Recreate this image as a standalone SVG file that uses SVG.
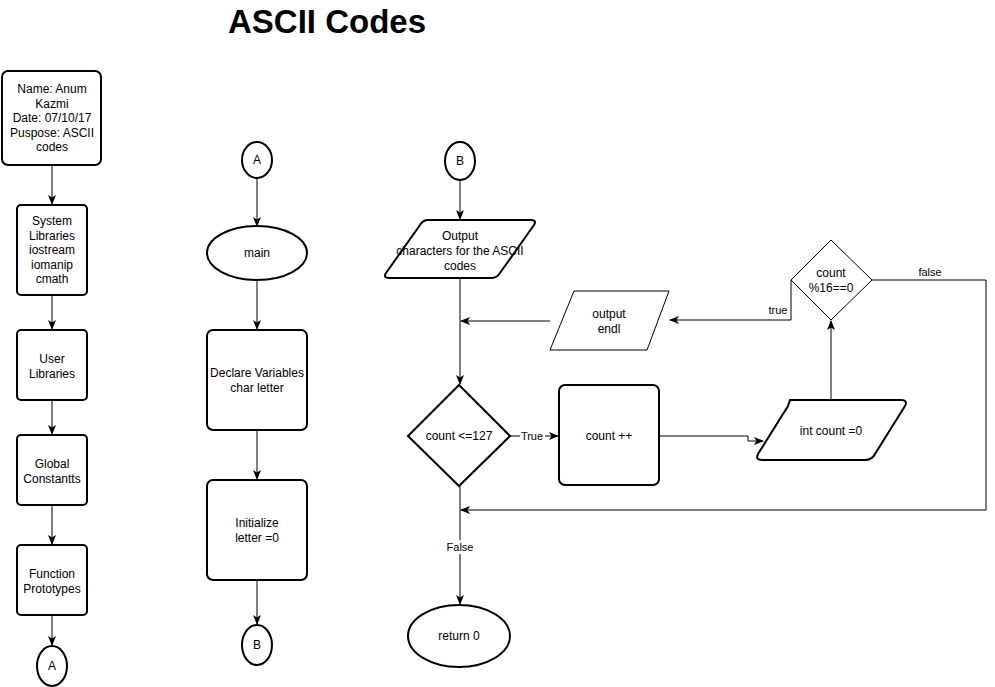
<svg xmlns="http://www.w3.org/2000/svg" width="995" height="687" viewBox="0 0 995 687">
  <defs>
    <style>
      .node { fill: #ffffff; stroke: #000000; stroke-width: 2; }
      .thin { fill: #ffffff; stroke: #000000; stroke-width: 1; }
      .edge { fill: none; stroke: #000000; stroke-width: 1; }
      text { font-family: "Liberation Sans", Arial, Helvetica, sans-serif; font-size: 12px; fill: #000000; text-anchor: middle; }
      .title { font-size: 33px; font-weight: bold; }
      .lbl { font-size: 11px; }
    </style>
    <marker id="arrow" viewBox="0 0 10 8" refX="9" refY="4" markerWidth="10" markerHeight="8" markerUnits="userSpaceOnUse" orient="auto">
      <path d="M0,0 L10,4 L0,8 L2.5,4 Z" fill="#000000"/>
    </marker>
  </defs>
  <rect width="995" height="687" fill="#ffffff"/>

  <text class="title" x="327" y="33">ASCII Codes</text>

  <!-- connectors -->
  <g id="connectors">
    <path class="edge" d="M52,165 V204" marker-end="url(#arrow)"/>
    <path class="edge" d="M52,295 V329" marker-end="url(#arrow)"/>
    <path class="edge" d="M52,400 V434" marker-end="url(#arrow)"/>
    <path class="edge" d="M52,505 V544" marker-end="url(#arrow)"/>
    <path class="edge" d="M52,615 V645" marker-end="url(#arrow)"/>

    <path class="edge" d="M257,179 V226" marker-end="url(#arrow)"/>
    <path class="edge" d="M257,280 V329" marker-end="url(#arrow)"/>
    <path class="edge" d="M257,430 V479" marker-end="url(#arrow)"/>
    <path class="edge" d="M257,580 V624" marker-end="url(#arrow)"/>

    <path class="edge" d="M460,180 V219" marker-end="url(#arrow)"/>
    <path class="edge" d="M460,278 V384" marker-end="url(#arrow)"/>
    <path class="edge" d="M550,321 H461" marker-end="url(#arrow)"/>
    <path class="edge" d="M510,436 H558" marker-end="url(#arrow)"/>
    <path class="edge" d="M659,436 H748 V441 H763" marker-end="url(#arrow)"/>
    <path class="edge" d="M831,400 V321" marker-end="url(#arrow)"/>
    <path class="edge" d="M791,280 V320 H670" marker-end="url(#arrow)"/>
    <path class="edge" d="M872,280 H986 V510 H461" marker-end="url(#arrow)"/>
    <path class="edge" d="M460,486 V604" marker-end="url(#arrow)"/>

    <rect x="520" y="429" width="25" height="14" fill="#ffffff"/>
    <text class="lbl" x="532" y="440">True</text>
    <rect x="446" y="540" width="28" height="14" fill="#ffffff"/>
    <text class="lbl" x="460" y="551">False</text>
    <text class="lbl" x="778" y="314">true</text>
    <text class="lbl" x="930" y="276">false</text>
  </g>

  <!-- header column -->
  <g id="header">
    <rect class="node" x="2" y="71" width="99" height="94" rx="6"/>
    <text x="52" y="93">Name: Anum</text>
    <text x="52" y="107.5">Kazmi</text>
    <text x="52" y="122">Date: 07/10/17</text>
    <text x="52" y="136.5">Puspose: ASCII</text>
    <text x="52" y="151">codes</text>
  </g>
  <g id="system-libraries">
    <rect class="node" x="17" y="205" width="70" height="90" rx="4"/>
    <text x="52" y="225">System</text>
    <text x="52" y="239.5">Libraries</text>
    <text x="52" y="254">iostream</text>
    <text x="52" y="268.5">iomanip</text>
    <text x="52" y="283">cmath</text>
  </g>
  <g id="user-libraries">
    <rect class="node" x="17" y="330" width="70" height="70" rx="4"/>
    <text x="52" y="363">User</text>
    <text x="52" y="378">Libraries</text>
  </g>
  <g id="global-constants">
    <rect class="node" x="17" y="435" width="70" height="70" rx="4"/>
    <text x="52" y="468">Global</text>
    <text x="52" y="483">Constantts</text>
  </g>
  <g id="function-prototypes">
    <rect class="node" x="17" y="545" width="70" height="70" rx="4"/>
    <text x="52" y="578">Function</text>
    <text x="52" y="593">Prototypes</text>
  </g>
  <g id="connector-a-out">
    <ellipse class="node" cx="52" cy="666" rx="15" ry="20"/>
    <text x="52" y="670">A</text>
  </g>

  <!-- main column -->
  <g id="connector-a-in">
    <ellipse class="node" cx="257" cy="160" rx="15" ry="18"/>
    <text x="257" y="164">A</text>
  </g>
  <g id="main">
    <ellipse class="node" cx="257" cy="253" rx="50" ry="27"/>
    <text x="257" y="257">main</text>
  </g>
  <g id="declare">
    <rect class="node" x="207" y="330" width="100" height="100" rx="6"/>
    <text x="257" y="377">Declare Variables</text>
    <text x="257" y="392">char letter</text>
  </g>
  <g id="initialize">
    <rect class="node" x="207" y="480" width="100" height="100" rx="6"/>
    <text x="257" y="527">Initialize</text>
    <text x="257" y="542">letter =0</text>
  </g>
  <g id="connector-b-out">
    <ellipse class="node" cx="257" cy="645" rx="15" ry="20"/>
    <text x="257" y="649">B</text>
  </g>

  <!-- loop column -->
  <g id="connector-b-in">
    <ellipse class="node" cx="460" cy="161" rx="15" ry="19"/>
    <text x="460" y="165">B</text>
  </g>
  <g id="output-characters">
    <text x="460" y="240">Output</text>
    <text x="460" y="255">characters for the ASCII</text>
    <text x="460" y="270">codes</text>
    <path class="node" style="fill:none" d="M428,220 H531 Q537,220 534,225 L500,273 Q497,278 491,278 H389 Q383,278 386,273 L420,225 Q423,220 428,220 Z"/>
  </g>
  <g id="output-endl">
    <path class="thin" d="M574,291 H669 L647,350 H550 Z"/>
    <text x="609" y="318">output</text>
    <text x="609" y="333">endl</text>
  </g>
  <g id="count-check">
    <path class="node" d="M459,385 L510,436 L459,486 L408,436 Z"/>
    <text x="459" y="440">count &lt;=127</text>
  </g>
  <g id="count-increment">
    <rect class="node" x="559" y="385" width="100" height="100" rx="6"/>
    <text x="609" y="440">count ++</text>
  </g>
  <g id="int-count">
    <path class="node" d="M790,400 H901 Q908,400 905,406 L875,454 Q872,460 865,460 H762 Q755,460 758,454 L788,406 Q790,400 790,400 Z"/>
    <text x="831" y="435">int count =0</text>
  </g>
  <g id="count-mod">
    <path class="thin" d="M831,240 L872,280 L831,320 L791,280 Z"/>
    <text x="831" y="277">count</text>
    <text x="831" y="292">%16==0</text>
  </g>
  <g id="return">
    <ellipse class="node" cx="459" cy="636" rx="51" ry="31"/>
    <text x="459" y="640">return 0</text>
  </g>
</svg>
